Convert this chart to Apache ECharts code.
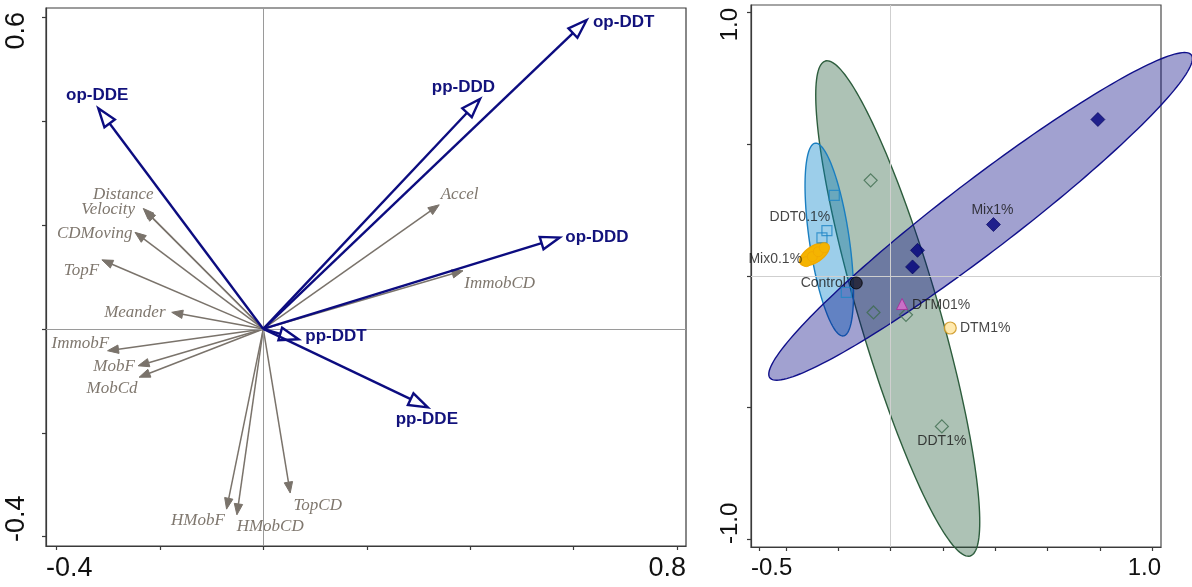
<!DOCTYPE html>
<html>
<head>
<meta charset="utf-8">
<script src="https://cdn.jsdelivr.net/npm/echarts@6/dist/echarts.min.js"></script>
<style>
  html, body { margin: 0; padding: 0; background: #ffffff; }
  #chart { width: 1192px; height: 587px; }
</style>
</head>
<body>
<div id="chart"></div>
<script>
// ---------- Left panel: loadings (contaminants in blue, behavioural endpoints in grey) ----------
const contaminantNames = ['op-DDE', 'op-DDT', 'pp-DDD', 'op-DDD', 'pp-DDT', 'pp-DDE'];
const contaminantX = [-0.319, 0.625, 0.419, 0.573, 0.068, 0.318];
const contaminantY = [0.425, 0.595, 0.443, 0.176, -0.020, -0.151];

const endpointNames = ['Distance', 'Velocity', 'CDMoving', 'TopF', 'Meander', 'ImmobF', 'MobF',
  'MobCd', 'HMobF', 'HMobCD', 'TopCD', 'Accel', 'ImmobCD'];
const endpointX = [-0.232, -0.229, -0.248, -0.312, -0.177, -0.301, -0.242, -0.240, -0.071, -0.051, 0.052, 0.340, 0.386];
const endpointY = [0.232, 0.228, 0.186, 0.133, 0.032, -0.042, -0.071, -0.093, -0.347, -0.358, -0.316, 0.239, 0.112];

const leftXRange = [-0.420, 0.817];
const leftYRange = [-0.418, 0.618];
const leftXTicks = [-0.4, -0.2, 0, 0.2, 0.4, 0.6, 0.8];
const leftYTicks = [-0.4, -0.2, 0, 0.2, 0.4, 0.6];
const leftXTickLabels = ['-0.4', '0.8'];
const leftYTickLabels = ['-0.4', '0.6'];

// ---------- Right panel: sample scores by treatment ----------
const controlX = [-0.131];
const controlY = [-0.027];
const ddt01X = [-0.215, -0.243, -0.262, -0.169];
const ddt01Y = [0.306, 0.172, 0.144, -0.063];
const ddt1X = [-0.076, -0.065, 0.059, 0.196];
const ddt1Y = [0.363, -0.139, -0.148, -0.572];
const mix01X = [-0.322, -0.299, -0.276, -0.253];
const mix01Y = [0.054, 0.073, 0.092, 0.107];
const mix1X = [0.792, 0.393, 0.103, 0.084];
const mix1Y = [0.594, 0.195, 0.097, 0.034];
const dtm01X = [0.044];
const dtm01Y = [-0.107];
const dtm1X = [0.228];
const dtm1Y = [-0.198];

// dispersion ellipses: DDT1%, DDT0.1%, Mix1%, Mix0.1%
const ellipseNames = ['DDT1%', 'DDT0.1%', 'Mix1%', 'Mix0.1%'];
const ellipseCx = [0.0275, -0.234, 0.344, -0.291];
const ellipseCy = [-0.124, 0.138, 0.226, 0.082];
const ellipseA = [0.980, 0.370, 1.012, 0.064];
const ellipseB = [0.153, 0.076, 0.134, 0.031];
const ellipseAngle = [106.4, 98.4, 37.3, 33];

const rightXRange = [-0.533, 1.033];
const rightYRange = [-1.030, 1.029];
const rightXTicks = [-0.5, -0.4, -0.2, 0, 0.2, 0.4, 0.6, 0.8, 1.0];
const rightYTicks = [-1.0, -0.5, 0, 0.5, 1.0];
const rightXTickLabels = ['-0.5', '1.0'];
const rightYTickLabels = ['-1.0', '1.0'];

// ---------- styling / label placement (pixels) ----------
const NAVY = '#0c0c80';
const GREY = '#7a736b';
const arrowLabelShift = {
  'op-DDE': [-1, -12.5], 'op-DDT': [37, 2.5], 'pp-DDD': [-16.7, -11.5], 'op-DDD': [37.2, -0.2],
  'pp-DDT': [37.5, -3.5], 'pp-DDE': [-1, 11.5],
  'Distance': [-20, -14], 'Velocity': [-36.7, -0.7], 'CDMoving': [-40.3, 1.5], 'TopF': [-20.4, 11],
  'Meander': [-36.9, 0.2], 'ImmobF': [-27.3, -7], 'MobF': [-24, 1], 'MobCd': [-27.1, 11.8],
  'HMobF': [-28.7, 11.5], 'HMobCD': [33.3, 12], 'TopCD': [27.5, 12.7], 'Accel': [20.4, -10.3],
  'ImmobCD': [36.7, 12.6]
};
const ellipseStyles = [
  { fill: 'rgba(40,95,60,0.38)', stroke: '#2d5d3d' },
  { fill: 'rgba(0,130,200,0.39)', stroke: '#1a7ec0' },
  { fill: 'rgba(0,0,128,0.37)', stroke: '#10108a' },
  { fill: '#f5b400', stroke: '#f0a800' }
];

function arrowSeries(names, xs, ys, opts) {
  return {
    type: 'custom',
    xAxisIndex: 0, yAxisIndex: 0,
    z: opts.z,
    silent: true,
    clip: false,
    data: names.map((n, i) => [xs[i], ys[i], n]),
    encode: { x: 0, y: 1 },
    renderItem: function (params, api) {
      const o = api.coord([0, 0]);
      const t = api.coord([api.value(0), api.value(1)]);
      const name = names[params.dataIndex];
      const dx = t[0] - o[0], dy = t[1] - o[1];
      const L = Math.hypot(dx, dy);
      const ux = dx / L, uy = dy / L;
      const base = [t[0] - ux * opts.headLen, t[1] - uy * opts.headLen];
      const p1 = [base[0] - uy * opts.headHalf, base[1] + ux * opts.headHalf];
      const p2 = [base[0] + uy * opts.headHalf, base[1] - ux * opts.headHalf];
      const sh = arrowLabelShift[name] || [0, 0];
      return {
        type: 'group',
        children: [
          { type: 'line', shape: { x1: o[0], y1: o[1], x2: base[0], y2: base[1] },
            style: { stroke: opts.color, lineWidth: opts.lineWidth } },
          { type: 'polygon', shape: { points: [t, p1, p2] },
            style: { fill: opts.hollow ? '#ffffff' : opts.color, stroke: opts.color,
                     lineWidth: opts.hollow ? opts.lineWidth : 1, lineJoin: 'miter' } },
          { type: 'text',
            style: { text: name, x: t[0] + sh[0], y: t[1] + sh[1], align: 'center', verticalAlign: 'middle',
                     font: opts.font, fill: opts.textColor } }
        ]
      };
    }
  };
}

function ellipseSeries() {
  return {
    type: 'custom',
    xAxisIndex: 1, yAxisIndex: 1,
    z: 3,
    silent: true,
    clip: false,
    data: ellipseNames.map((n, i) => [ellipseCx[i], ellipseCy[i], ellipseA[i], ellipseB[i], ellipseAngle[i]]),
    encode: { x: 0, y: 1 },
    renderItem: function (params, api) {
      const cx = api.value(0), cy = api.value(1), a = api.value(2), b = api.value(3);
      const ang = api.value(4) * Math.PI / 180;
      const pts = [];
      for (let k = 0; k < 180; k++) {
        const th = k / 180 * 2 * Math.PI;
        const ex = a * Math.cos(th), ey = b * Math.sin(th);
        pts.push(api.coord([cx + ex * Math.cos(ang) - ey * Math.sin(ang),
                            cy + ex * Math.sin(ang) + ey * Math.cos(ang)]));
      }
      const st = ellipseStyles[params.dataIndex];
      return { type: 'polygon', shape: { points: pts },
               style: { fill: st.fill, stroke: st.stroke, lineWidth: 1.4 } };
    }
  };
}

const groupLabelFont = { fontFamily: 'Liberation Sans', fontSize: 14, color: '#151515' };
// [index of the point carrying the label, dx, dy]
const groupLabelPlace = {
  'Control': [0, -33, 0.4], 'DDT0.1%': [1, -27, -13], 'DDT1%': [3, 0, 15], 'Mix0.1%': [0, -31, -3],
  'Mix1%': [1, -1, -14], 'DTM01%': [0, 39, 1.4], 'DTM1%': [0, 35, 0.4]
};

function scoreSeries(name, xs, ys, symbol, size, itemStyle, z) {
  const place = groupLabelPlace[name];
  return {
    type: 'scatter',
    name: name,
    xAxisIndex: 1, yAxisIndex: 1,
    symbol: symbol,
    symbolSize: size,
    z: z,
    silent: true,
    itemStyle: itemStyle,
    data: xs.map((x, i) => {
      const v = [x, ys[i]];
      if (i !== place[0]) return v;
      return {
        value: v,
        label: Object.assign({ show: true, formatter: name, position: 'inside',
                               offset: [place[1], place[2]], align: 'center', verticalAlign: 'middle' },
                             groupLabelFont)
      };
    })
  };
}

function endLabelFormatter(range, labels) {
  return function (v) { return Math.abs(v - range[0]) < 1e-6 ? labels[0] : labels[1]; };
}

function xAxisDef(grid, range, ticks, labels, fontSize) {
  return {
    gridIndex: grid, type: 'value', min: range[0], max: range[1],
    axisLine: { show: true, onZero: false, lineStyle: { color: '#3a3a3a', width: 1.2 } },
    axisTick: { show: true, customValues: ticks, length: 4, lineStyle: { color: '#3a3a3a', width: 1.2 } },
    axisLabel: { show: true, customValues: [range[0], range[1]], formatter: endLabelFormatter(range, labels),
                 alignMinLabel: 'left', alignMaxLabel: 'right', fontSize: fontSize, color: '#111',
                 fontFamily: 'Liberation Sans', margin: 9 },
    splitLine: { show: false }
  };
}

function yAxisDef(grid, range, ticks, labels, fontSize, margin, inset) {
  return {
    gridIndex: grid, type: 'value', min: range[0], max: range[1],
    axisLine: { show: true, onZero: false, lineStyle: { color: '#3a3a3a', width: 1.2 } },
    axisTick: { show: true, customValues: ticks, length: 4, lineStyle: { color: '#3a3a3a', width: 1.2 } },
    axisLabel: { show: true, customValues: [range[0], range[1]], formatter: endLabelFormatter(range, labels),
                 rotate: 90, alignMinLabel: 'left', alignMaxLabel: 'right', verticalAlign: 'bottom',
                 padding: [0, inset, 0, inset],
                 fontSize: fontSize, color: '#111', fontFamily: 'Liberation Sans', margin: margin },
    splitLine: { show: false }
  };
}

function zeroLines(xi, yi, color) {
  return {
    type: 'line', xAxisIndex: xi, yAxisIndex: yi, data: [], z: 1, silent: true,
    markLine: {
      silent: true, symbol: ['none', 'none'], label: { show: false },
      lineStyle: { color: color, width: 1, type: 'solid' },
      data: [{ xAxis: 0 }, { yAxis: 0 }]
    }
  };
}

const chart = echarts.init(document.getElementById('chart'), null, { renderer: 'canvas' });
chart.setOption({
  animation: false,
  backgroundColor: '#ffffff',
  grid: [
    { left: 46, top: 8, width: 640, height: 538, show: true, borderColor: '#3a3a3a', borderWidth: 1.2 },
    { left: 751, top: 5, width: 410, height: 542, show: true, borderColor: '#4a4a4a', borderWidth: 1.2 }
  ],
  xAxis: [
    xAxisDef(0, leftXRange, leftXTicks, leftXTickLabels, 27),
    xAxisDef(1, rightXRange, rightXTicks, rightXTickLabels, 24)
  ],
  yAxis: [
    yAxisDef(0, leftYRange, leftYTicks, leftYTickLabels, 27, 16, 4),
    yAxisDef(1, rightYRange, rightYTicks, rightYTickLabels, 24, 9, 3)
  ],
  series: [
    zeroLines(0, 0, '#9a9a9a'),
    arrowSeries(endpointNames, endpointX, endpointY, {
      z: 4, color: GREY, textColor: '#7f776e', lineWidth: 1.5, headLen: 11, headHalf: 4.2, hollow: false,
      font: 'italic 17px "Liberation Serif", "DejaVu Serif", serif'
    }),
    arrowSeries(contaminantNames, contaminantX, contaminantY, {
      z: 5, color: NAVY, textColor: '#12127c', lineWidth: 2.4, headLen: 19, headHalf: 6.5, hollow: true,
      font: 'bold 17px "Liberation Sans", Arial, sans-serif'
    }),
    zeroLines(1, 1, '#cfcfcf'),
    ellipseSeries(),
    scoreSeries('DDT1%', ddt1X, ddt1Y, 'diamond', 13,
      { color: 'rgba(0,0,0,0)', borderColor: '#3d6b4d', borderWidth: 1.2 }, 6),
    scoreSeries('DDT0.1%', ddt01X, ddt01Y, 'rect', 10,
      { color: 'rgba(0,0,0,0)', borderColor: '#1f86c6', borderWidth: 1.2 }, 6),
    scoreSeries('Mix0.1%', mix01X, mix01Y, 'circle', 10,
      { color: '#f5b400', borderColor: '#f0a800', borderWidth: 1 }, 6),
    scoreSeries('Mix1%', mix1X, mix1Y, 'diamond', 14,
      { color: '#00007a', borderColor: '#00005a', borderWidth: 0.8 }, 6),
    scoreSeries('Control', controlX, controlY, 'circle', 12,
      { color: '#1c1c2c', borderColor: '#000000', borderWidth: 1 }, 7),
    scoreSeries('DTM01%', dtm01X, dtm01Y, 'triangle', 11,
      { color: '#df6fd0', borderColor: '#a8289a', borderWidth: 1 }, 7),
    scoreSeries('DTM1%', dtm1X, dtm1Y, 'circle', 12,
      { color: '#ffe49a', borderColor: '#c98f12', borderWidth: 1.2 }, 7)
  ]
});
</script>
</body>
</html>
